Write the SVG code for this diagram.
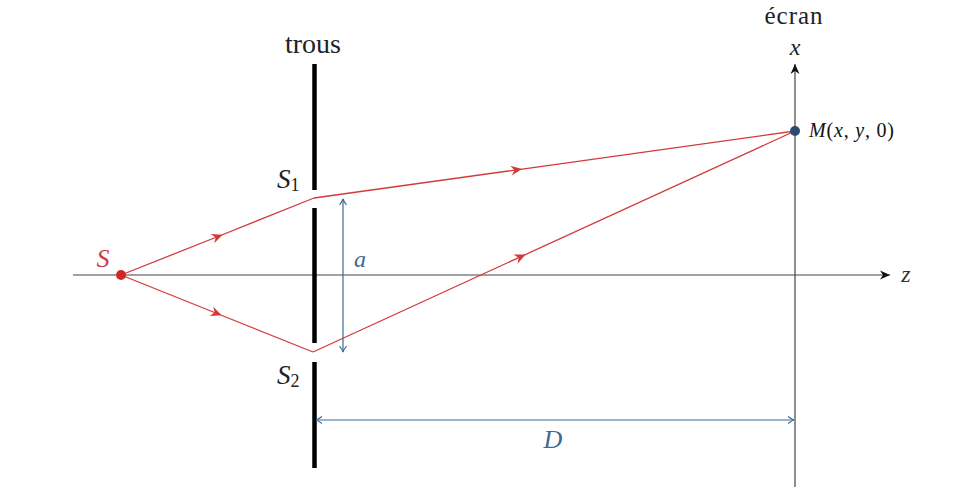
<svg xmlns="http://www.w3.org/2000/svg" width="968" height="498" viewBox="0 0 968 498">
<style>
.serif{font-family:"Liberation Serif","DejaVu Serif",serif;}
.it{font-style:italic;}
.axis{stroke:#444;stroke-width:1.2;fill:none;}
.ray{stroke:#d23a3a;stroke-width:1.3;fill:none;}
.dim{stroke:#3d6a95;stroke-width:1.2;fill:none;}
.barrier{stroke:#000;stroke-width:4.5;}
</style>
<defs>
<marker id="axArrow" markerWidth="12" markerHeight="10" viewBox="-11 -5 12 10" refX="0" refY="0" orient="auto" markerUnits="userSpaceOnUse">
<path d="M0,0 L-10,-4.5 L-7,0 L-10,4.5 Z" fill="#111"/>
</marker>
<marker id="rayArrow" markerWidth="14" markerHeight="12" viewBox="-7 -6 14 12" refX="0" refY="0" orient="auto" markerUnits="userSpaceOnUse">
<path d="M5,0 L-6,-5 L-2.5,0 L-6,5 Z" fill="#d23a3a"/>
</marker>
<marker id="dimEnd" markerWidth="10" markerHeight="10" viewBox="-8 -5 10 10" refX="0" refY="0" orient="auto" markerUnits="userSpaceOnUse">
<path d="M-6,-3.5 Q-2,-0.5 0,0 Q-2,0.5 -6,3.5" stroke="#3d6a95" stroke-width="1.2" fill="none"/>
</marker>
<marker id="dimStart" markerWidth="10" markerHeight="10" viewBox="-2 -5 10 10" refX="0" refY="0" orient="auto" markerUnits="userSpaceOnUse">
<path d="M6,-3.5 Q2,-0.5 0,0 Q2,0.5 6,3.5" stroke="#3d6a95" stroke-width="1.2" fill="none"/>
</marker>
</defs>

<g id="axes">
<line class="axis" x1="73" y1="275" x2="890" y2="275" marker-end="url(#axArrow)"/>
<line class="axis" x1="795" y1="487" x2="795" y2="64" marker-end="url(#axArrow)"/>
<text class="serif it" x="906" y="282" font-size="24" text-anchor="middle" fill="#333">z</text>
<text class="serif it" x="795" y="55" font-size="24" text-anchor="middle" fill="#222">x</text>
</g>

<g id="trous">
<line class="barrier" x1="314.5" y1="64" x2="314.5" y2="190"/>
<line class="barrier" x1="314.5" y1="208" x2="314.5" y2="343"/>
<line class="barrier" x1="314.5" y1="362" x2="314.5" y2="468"/>
<text class="serif" x="313" y="53" font-size="28" text-anchor="middle" fill="#222">trous</text>
</g>

<g id="ecran">
<text class="serif" x="794" y="24" font-size="25" letter-spacing="1" text-anchor="middle" fill="#222">écran</text>
</g>

<g id="connectors">
<path class="ray" d="M121,275 L218,236.5 L314,198" marker-mid="url(#rayArrow)"/>
<path class="ray" d="M121,275 L217,313.5 L313,352" marker-mid="url(#rayArrow)"/>
<path class="ray" d="M314,198 L517,169.8 L795,131" marker-mid="url(#rayArrow)"/>
<path class="ray" d="M313,352 L521,256.6 L795,131" marker-mid="url(#rayArrow)"/>
<line class="dim" x1="343" y1="199" x2="343" y2="352" marker-start="url(#dimStart)" marker-end="url(#dimEnd)"/>
<line class="dim" x1="316" y1="420" x2="794" y2="420" marker-start="url(#dimStart)" marker-end="url(#dimEnd)"/>
</g>

<g id="S">
<circle cx="121" cy="275" r="5" fill="#d02828"/>
<text class="serif it" x="103" y="267" font-size="26" text-anchor="middle" fill="#d23a3a">S</text>
</g>

<g id="S1">
<text class="serif it" x="277" y="188" font-size="27" fill="#222">S<tspan font-style="normal" font-size="18" dy="3">1</tspan></text>
</g>

<g id="S2">
<text class="serif it" x="277" y="384" font-size="27" fill="#222">S<tspan font-style="normal" font-size="18" dy="3">2</tspan></text>
</g>

<g id="M">
<circle cx="795" cy="131" r="5" fill="#2e4a70"/>
<text class="serif" x="809" y="137" font-size="20" letter-spacing="0.8" fill="#111"><tspan font-style="italic">M</tspan>(<tspan font-style="italic">x</tspan>, <tspan font-style="italic">y</tspan>, 0)</text>
</g>

<g id="label-a">
<text class="serif it" x="360" y="267" font-size="24" text-anchor="middle" fill="#3d6a95">a</text>
</g>

<g id="label-D">
<text class="serif it" x="553" y="448" font-size="26" text-anchor="middle" fill="#3d6a95">D</text>
</g>
</svg>
